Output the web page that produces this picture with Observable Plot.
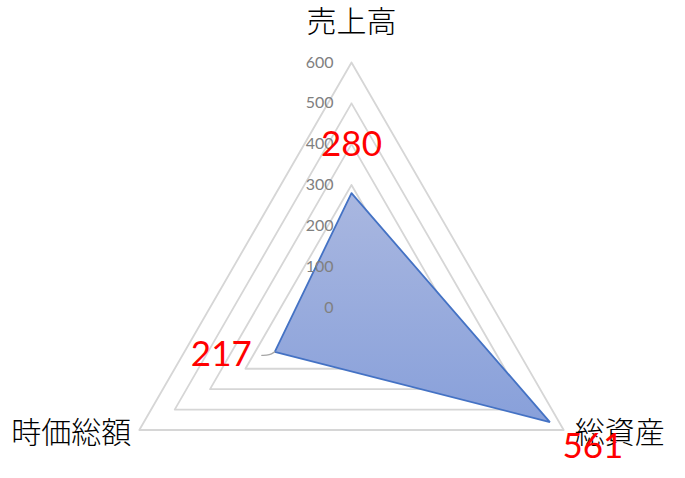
<!DOCTYPE html>
<html>
<head>
<meta charset="utf-8">
<script src="https://cdn.jsdelivr.net/npm/d3@7"></script>
<script src="https://cdn.jsdelivr.net/npm/@observablehq/plot@0.6"></script>
<style>
  html, body { margin: 0; padding: 0; background: #fff; }
  #chart { width: 685px; height: 478px; }
</style>
</head>
<body>
<div id="chart"></div>
<script>
// ---- data ----
const categories = ["売上高", "総資産", "時価総額"];
const values = [280, 561, 217];
const ticks = [0, 100, 200, 300, 400, 500, 600];
const maxValue = 600;

// ---- geometry helpers (value space) ----
const angle = i => (i * 2 * Math.PI) / categories.length; // 0 = up, clockwise
const px = (r, i) => r * Math.sin(angle(i));
const py = (r, i) => r * Math.cos(angle(i));

const W = 685, H = 478, cx = 351, cy = 307, R = 245;
const k = maxValue / R; // value units per pixel

// gridline rings
const gridRings = ticks.filter(t => t > 0).flatMap(t =>
  [0, 1, 2, 3].map(j => ({ t, x: px(t, j % 3), y: py(t, j % 3) }))
);
const poly = values.map((v, i) => ({ x: px(v, i), y: py(v, i), v, i }));
const polyClosed = [...poly, poly[0]];
const catPts = categories.map((c, i) => ({ c, i, x: px(maxValue, i), y: py(maxValue, i) }));

// gradient defs mark
const defs = () => {
  const ns = "http://www.w3.org/2000/svg";
  const d = document.createElementNS(ns, "defs");
  d.innerHTML = `<linearGradient id="fillGrad" x1="0" y1="0" x2="0" y2="1">
      <stop offset="0" stop-color="#a9b7e0"/>
      <stop offset="1" stop-color="#88a0da"/>
    </linearGradient>`;
  return d;
};

const numFont = "Lato, 'Noto Sans', sans-serif";
const cjkFont = "'Noto Sans CJK JP', sans-serif";

const chart = Plot.plot({
  width: W, height: H,
  marginTop: 0, marginBottom: 0, marginLeft: 0, marginRight: 0,
  x: { domain: [-cx * k, (W - cx) * k], axis: null },
  y: { domain: [-(H - cy) * k, cy * k], axis: null },
  style: { background: "#fff", overflow: "visible" },
  marks: [
    defs,
    Plot.line(gridRings, { x: "x", y: "y", z: "t", stroke: "#d6d6d6", strokeWidth: 1.8 }),
    Plot.line(polyClosed, { x: "x", y: "y", fill: "url(#fillGrad)", stroke: "#4472c4", strokeWidth: 1.8, strokeLinejoin: "miter" }),
    // tick labels
    Plot.text(ticks, { x: 0, y: d => d, text: d => String(d), textAnchor: "end", dx: -18, fill: "#808080", fontSize: 16, fontFamily: numFont }),
    // category labels
    Plot.text(catPts.filter(d => d.i === 0), { x: "x", y: "y", text: "c", dy: -40, fontSize: 30, fontFamily: cjkFont, fill: "#000", fontWeight: 300 }),
    Plot.text(catPts.filter(d => d.i === 1), { x: "x", y: "y", text: "c", textAnchor: "start", dx: 11, dy: 3, fontSize: 30, fontFamily: cjkFont, fill: "#000", fontWeight: 300 }),
    Plot.text(catPts.filter(d => d.i === 2), { x: "x", y: "y", text: "c", textAnchor: "end", dx: -8, dy: 3, fontSize: 30, fontFamily: cjkFont, fill: "#000", fontWeight: 300 }),
    // leader line for 217
    Plot.line(poly.filter(d => d.i === 2).flatMap(d => [
      { x: d.x - 13 * k, y: d.y - 3.5 * k },
      { x: d.x - 5 * k, y: d.y - 3.5 * k },
      { x: d.x, y: d.y }
    ]), { x: "x", y: "y", stroke: "#a6a6a6", strokeWidth: 1.3, curve: "basis" }),
    // value labels
    Plot.text(poly.filter(d => d.i === 0), { x: "x", y: "y", text: d => String(d.v), dy: -48, fill: "#ff0000", fontSize: 35, fontFamily: numFont }),
    Plot.text(poly.filter(d => d.i === 1), { x: "x", y: "y", text: d => String(d.v), dx: 43, dy: 25, fill: "#ff0000", fontSize: 35, fontFamily: numFont }),
    Plot.text(poly.filter(d => d.i === 2), { x: "x", y: "y", text: d => String(d.v), textAnchor: "end", dx: -23, dy: 3, fill: "#ff0000", fontSize: 35, fontFamily: numFont })
  ]
});
document.getElementById("chart").appendChild(chart);
</script>
</body>
</html>
